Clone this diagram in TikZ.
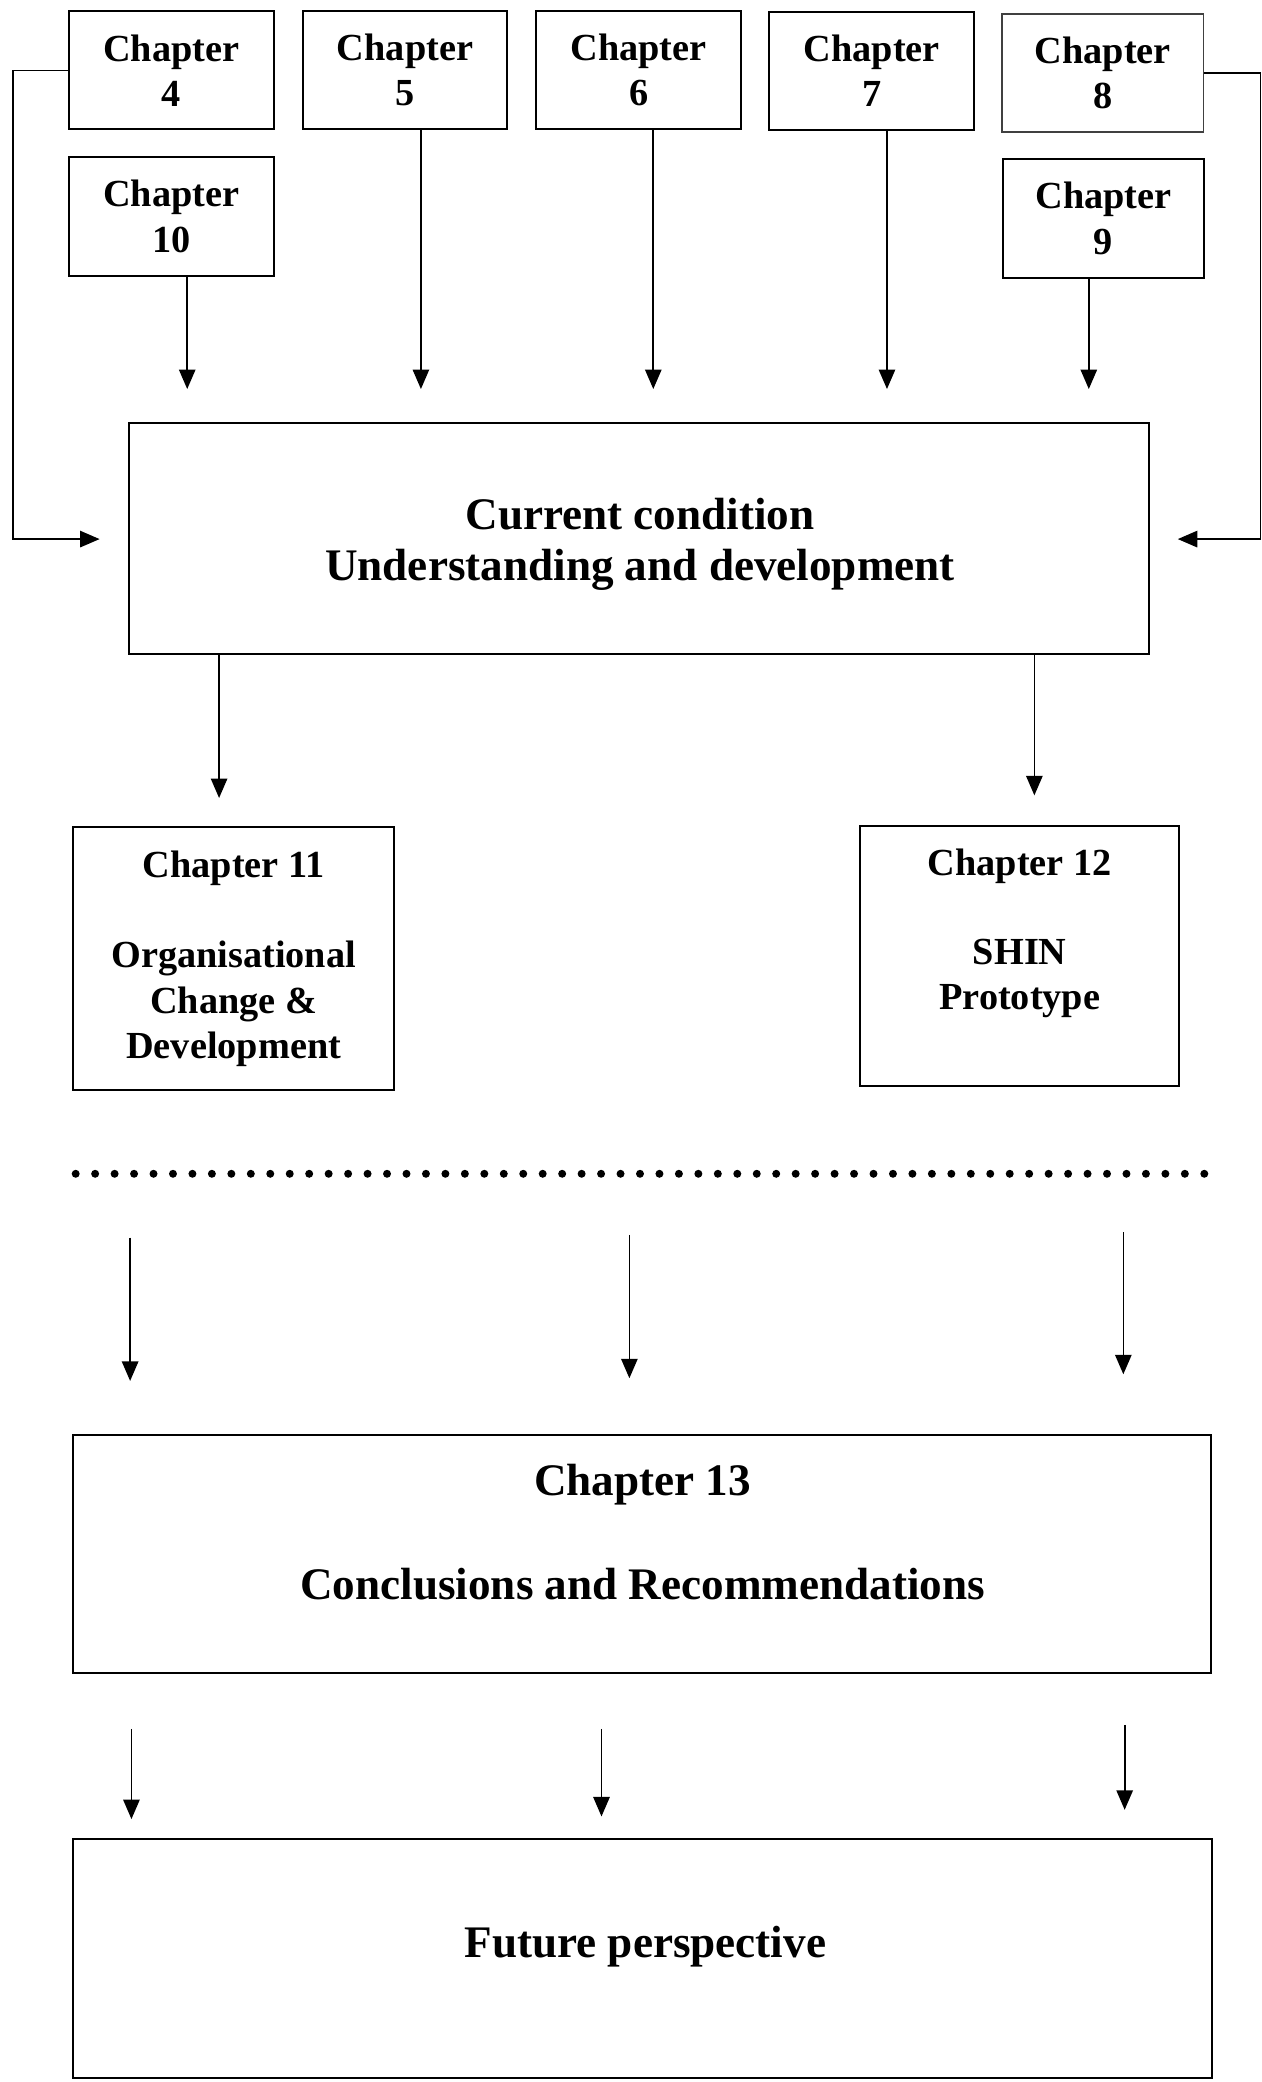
\documentclass[tikz,border=0pt]{standalone}
\usepackage{fontspec}
\setmainfont{Liberation Serif}
\usetikzlibrary{arrows.meta}
\newcommand\chapfont{\fontsize{17.3}{20.4}\selectfont\bfseries}
\newcommand\headfont{\fontsize{20.4}{23.4}\selectfont\bfseries}
\begin{document}
\begin{tikzpicture}[x=0.6pt,y=-0.6pt,
  boxline/.style={draw, line width=0.9pt, inner sep=0pt},
  chapbox/.style={boxline, minimum width=92.4pt, minimum height=53.4pt, align=center, font=\chapfont},
  narrowbox/.style={chapbox, minimum width=91.2pt},
  label/.style={inner sep=0pt, align=center},
  arr/.style={line width=0.75pt, -{Triangle[length=8.8pt,width=7.4pt]}},
  dotline/.style={line width=3.6pt, line cap=round, dash pattern=on 0pt off 8.793pt}]
\useasboundingbox (0,0) rectangle (950,1568);
\fill[white] (0,0) rectangle (950,1568);

% top row of chapters
\node[chapbox] (c4) at (129,53) {Chapter\\4};
\node[chapbox] (c5) at (305,52.5) {Chapter\\5};
\node[chapbox] (c6) at (481,52.5) {Chapter\\6};
\node[chapbox] (c7) at (656.5,53.5) {Chapter\\7};
\node[narrowbox, line width=0.6pt, draw=black!75] (c8) at (830.5,55) {Chapter\\8};
% second row
\node[chapbox] (c10) at (129,163) {Chapter\\10};
\node[narrowbox] (c9) at (831,164.5) {Chapter\\9};

% central box
\node[boxline, minimum width=460.8pt, minimum height=104.4pt] (main) at (481,405.5) {};
\node[label, font=\headfont] (maint) at (482,410) {Current condition\\Understanding and development};

% arrow tips above the central box
\coordinate (t10) at (141,293);
\coordinate (t5) at (317,293);
\coordinate (t6) at (492,293);
\coordinate (t7) at (668,293);
\coordinate (t9) at (820,293);
\draw[arr] (t10 |- c10.south) -- (t10);
\draw[arr] (t5 |- c5.south) -- (t5);
\draw[arr] (t6 |- c6.south) -- (t6);
\draw[arr] (t7 |- c7.south) -- (t7);
\draw[arr] (t9 |- c9.south) -- (t9);

% side feeds into the central box
\coordinate (lb) at (10,406);
\coordinate (tl) at (75,406);
\draw[arr] (c4.west) -| (lb) -- (tl);
\coordinate (rb) at (949.3,406);
\coordinate (tr) at (887,406);
\draw[arr] (c8.east) -| (rb) -- (tr);

% chapters 11 and 12
\node[boxline, minimum width=145.2pt, minimum height=118.8pt] (c11) at (176,722) {};
\node[label, font=\chapfont] (c11t) at (176,722) {Chapter 11\\[20.4pt]Organisational\\Change \&\\Development};
\node[boxline, minimum width=144pt, minimum height=117.6pt] (c12) at (768,720) {};
\node[label, font=\chapfont] (c12t) at (768,703) {Chapter 12\\[19.8pt]SHIN\\Prototype};

\coordinate (t11) at (165,601);
\coordinate (t12) at (779,599);
\draw[arr] (t11 |- main.south) -- (t11);
\draw[arr] (t12 |- main.south) -- (t12);

% dotted separator
\coordinate (dl) at (57,884);
\coordinate (dr) at (907,884);
\draw[dotline] (dl) -- (dr);

% arrows towards chapter 13
\coordinate (s1) at (98,932);   \coordinate (e1) at (98,1040);
\coordinate (s2) at (474,930);  \coordinate (e2) at (474,1038);
\coordinate (s3) at (846,928);  \coordinate (e3) at (846,1035);
\draw[arr] (s1) -- (e1);
\draw[arr] (s2) -- (e2);
\draw[arr] (s3) -- (e3);

% chapter 13
\node[boxline, minimum width=514.2pt, minimum height=107.4pt] (c13) at (483.5,1170.5) {};
\node[label, font=\headfont] (c13t) at (484,1154) {Chapter 13\\[23.4pt]Conclusions and Recommendations};

% arrows towards the future perspective
\coordinate (u1) at (99,1302);  \coordinate (v1) at (99,1370);
\coordinate (u2) at (453,1302); \coordinate (v2) at (453,1368);
\coordinate (u3) at (847,1299); \coordinate (v3) at (847,1363);
\draw[arr] (u1) -- (v1);
\draw[arr] (u2) -- (v2);
\draw[arr] (u3) -- (v3);

% future perspective
\node[boxline, minimum width=514.8pt, minimum height=108pt] (fut) at (484,1475) {};
\node[label, font=\headfont] (futt) at (486,1466) {Future perspective};
\end{tikzpicture}
\end{document}
